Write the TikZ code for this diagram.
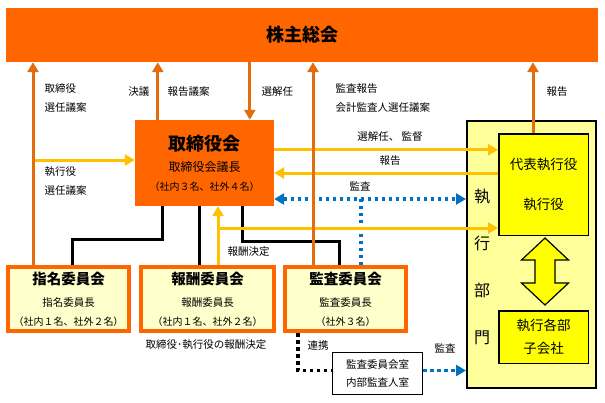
\documentclass[tikz,border=0pt]{standalone}
\usepackage{fontspec}
\setmainfont{Noto Sans CJK JP}
\usetikzlibrary{arrows.meta}

\definecolor{kabu}{HTML}{FF6600}
\definecolor{daidai}{HTML}{E46C0A}
\definecolor{yamabuki}{HTML}{FFC000}
\definecolor{aoiro}{HTML}{0070C0}
\definecolor{usuki}{HTML}{FFFFCC}
\definecolor{shikkoki}{HTML}{FFFF99}
\definecolor{kiiro}{HTML}{FFFF00}

\begin{document}
\begin{tikzpicture}[x=1pt, y=-1pt,
font=\fontsize{10.5}{19}\selectfont,
box/.style={rectangle, inner sep=0pt, align=center},
kaigi/.style={box, fill=kabu, minimum width=592, minimum height=54, font=\fontsize{18}{22}\selectfont\bfseries},
board/.style={box, fill=kabu, minimum width=139, minimum height=86},
iinkai/.style={box, draw=kabu, fill=usuki, line width=4, minimum width=121, minimum height=64},
bumon/.style={box, draw=black, fill=kiiro, line width=1.5, minimum width=89.5, font=\fontsize{13.5}{40}\selectfont},
ue/.style={draw=daidai, line width=3, -{Triangle[length=10,width=11]}},
ki/.style={draw=yamabuki, line width=3, -{Triangle[length=10,width=11]}},
ao/.style={draw=aoiro, line width=3.5, dash pattern=on 3.5 off 3.5},
kuro/.style={draw=black, line width=3},
kuroten/.style={draw=black, line width=3.5, dash pattern=on 3.5 off 3.5}]

\useasboundingbox (0,0) rectangle (605,402);

\node[kaigi]  (kabunushi)   at (302,35)     {株主総会};
\node[board]  (torishimari) at (204.5,163)  {{\fontsize{18}{22}\selectfont\bfseries 取締役会}\\[2pt]
  {\fontsize{12}{20}\selectfont 取締役会議長}\\ {\fontsize{10}{18}\selectfont （社内３名、社外４名）}};

\node[iinkai] (shimei)  at (68.5,299)  {{\fontsize{14.5}{18}\selectfont\bfseries 指名委員会}\\[3pt] 指名委員長\\ {\fontsize{10}{18}\selectfont （社内１名、社外２名）}};
\node[iinkai, minimum width=133] (houshu) at (207.5,299) {{\fontsize{14.5}{18}\selectfont\bfseries 報酬委員会}\\[3pt] 報酬委員長\\ {\fontsize{10}{18}\selectfont （社内１名、社外２名）}};
\node[iinkai] (kansa)   at (345.5,299) {{\fontsize{14.5}{18}\selectfont\bfseries 監査委員会}\\[3pt] 監査委員長\\ {\fontsize{10}{18}\selectfont （社外３名）}};

\node[box, draw=black, fill=white, line width=1, minimum width=90, minimum height=42, font=\fontsize{10.5}{18}\selectfont]
  (shitsu) at (377.5,373.5) {監査委員会室\\内部監査人室};

\node[box, draw=black, fill=shikkoki, line width=2, minimum width=129, minimum height=267] (shikko) at (531.5,254.5) {};
\node[bumon, minimum height=101.5] (daihyo) at (543.5,184.5) {代表執行役\\執行役};
\node[bumon, minimum height=52.5, font=\fontsize{13.5}{23}\selectfont] (kakubu) at (543.5,337) {執行各部\\子会社};
\node[box, font=\fontsize{16}{47}\selectfont] (shikkomoji) at (482,267) {執\\行\\部\\門};

\draw[draw=black, fill=kiiro, line width=1.2] (545,238) -- (568.5,260) -- (555,260) -- (555,283) -- (568.5,283)
  -- (545,305) -- (521.5,283) -- (535,283) -- (535,260) -- (521.5,260) -- cycle;

\draw[kuro] ([xshift=28]torishimari.south west) |- ([xshift=66,yshift=26]shimei.north west) -- ([xshift=66]shimei.north west);
\draw[kuro] ([xshift=65]torishimari.south west) -- ([xshift=65]torishimari.south west |- houshu.north);
\draw[kuro] ([xshift=108]torishimari.south west) |- ([xshift=56,yshift=24]kansa.north west) -- ([xshift=56]kansa.north west);
\draw[kuroten] ([xshift=15]kansa.south west) |- ([yshift=3]shitsu.west);

\coordinate (kansasen) at ([yshift=-36]torishimari.east);
\draw[ao, {Triangle[length=10,width=11]}-{Triangle[length=10,width=11]}] (kansasen) -- (kansasen -| shikko.west);
\draw[ao] ([xshift=78]kansa.north west) -- ([xshift=78]kansa.north west |- kansasen);
\draw[ao, -{Triangle[length=10,width=11]}] ([yshift=3]shitsu.east) -- ([yshift=3]shitsu.east -| shikko.west);

\coordinate (senin) at ([xshift=27]shimei.north west);
\coordinate (kettei) at ([xshift=79]houshu.north west);
\draw[ki] ([yshift=3]torishimari.west -| senin) -- ([yshift=3]torishimari.west);
\draw[ki] ([yshift=-30]torishimari.north east) -- ([yshift=-30]torishimari.north east -| daihyo.west);
\draw[ki] ([yshift=11.5]daihyo.west) -- ([yshift=11.5]daihyo.west -| torishimari.east);
\draw[ki] (kettei) -- (kettei |- torishimari.south);
\draw[ki] ([yshift=-43.5]daihyo.west -| kettei) -- ([yshift=-43.5]daihyo.west);

\draw[ue] (senin) -- (senin |- kabunushi.south);
\draw[ue] ([xshift=23]torishimari.north west) -- ([xshift=23]torishimari.north west |- kabunushi.south);
\draw[ue] ([xshift=115]torishimari.north west |- kabunushi.south) -- ([xshift=115]torishimari.north west);
\draw[ue] ([xshift=30]kansa.north west) -- ([xshift=30]kansa.north west |- kabunushi.south);
\draw[ue] ([xshift=35]daihyo.north west) -- ([xshift=35]daihyo.north west |- kabunushi.south);

\node[anchor=west, align=left] (l-senin)   at (41,98)   {取締役\\選任議案};
\node[anchor=east]             (l-ketsugi) at (153,92)  {決議};
\node[anchor=west]             (l-gian)    at (164,92)  {報告議案};
\node[anchor=west]             (l-senkai)  at (258,92)  {選解任};
\node[anchor=west, align=left] (l-kansa)   at (332,98)  {監査報告\\会計監査人選任議案};
\node[anchor=west]             (l-houkoku) at (543,92)  {報告};
\node[anchor=west, align=left] (l-shikko)  at (41,181)  {執行役\\選任議案};
\node                          (l-kantoku) at (390,137) {選解任、 監督};
\node                          (l-houkoku2) at (390,161) {報告};
\node                          (l-kansa2)  at (360,186) {監査};
\node[anchor=west]             (l-kettei)  at (224,252) {報酬決定};
\node                          (l-houshu)  at (206,345) {取締役･執行役の報酬決定};
\node                          (l-renkei)  at (318,346) {連携};
\node                          (l-kansa3)  at (445,348) {監査};

\end{tikzpicture}
\end{document}
